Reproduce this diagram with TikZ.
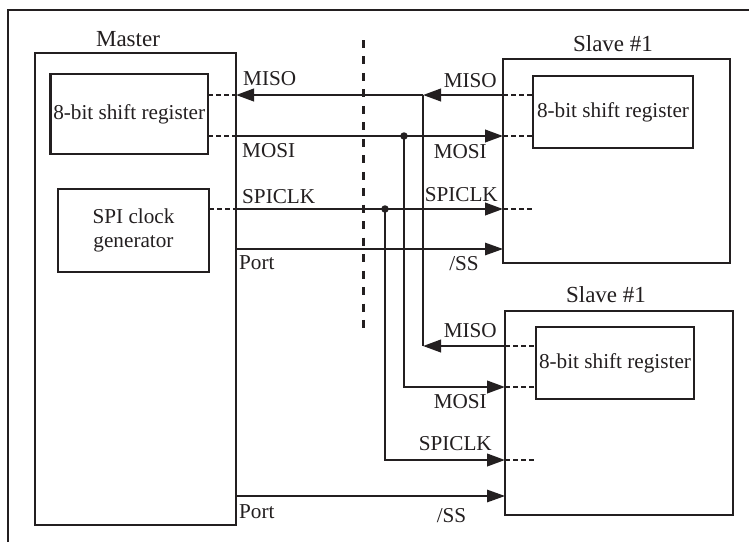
\documentclass[tikz,border=0pt]{standalone}
\usepackage{fontspec}
\setmainfont{Liberation Serif}
\usetikzlibrary{arrows.meta}
\definecolor{ink}{HTML}{231F20}
\begin{document}
\begin{tikzpicture}[x=1pt,y=-1pt,
  box/.style={draw=ink, line width=2.2pt, inner sep=0pt, outer sep=0pt, anchor=north west},
  sig/.style={draw=ink, line width=2.4pt},
  thinsig/.style={draw=ink, line width=1.4pt},
  tip/.style={-{Triangle[length=18pt,width=12.5pt]}},
  pin/.style={draw=ink, line width=2.4pt, dash pattern=on 4.5pt off 3.5pt},
  lbl/.style={font=\fontsize{21.2}{24.5}\selectfont, text=ink, inner sep=0pt},
  ttl/.style={font=\fontsize{23}{27}\selectfont, text=ink, inner sep=0pt},
  jdot/.style={circle, fill=ink, inner sep=0pt, minimum size=7.5pt}]
\useasboundingbox (0,0) rectangle (749,542);
\fill[white] (0,0) rectangle (749,542);
% outer frame
\coordinate (f1) at (8,542);
\coordinate (f2) at (8,10);
\coordinate (f3) at (749,10);
\draw[ink, line width=2pt] (f1) -- (f2) -- (f3);
% boxes
\node[box, minimum width=201pt, minimum height=472pt] (master) at (35,53) {};
\node[box, lbl, minimum width=157.5pt, minimum height=80pt] (msr) at (50.5,74) {8-bit shift register};
\node[box, lbl, align=center, minimum width=151pt, minimum height=83pt] (clk) at (58,189) {SPI clock\\generator};
\node[box, minimum width=227pt, minimum height=204pt] (s1) at (503,59) {};
\node[box, lbl, minimum width=160pt, minimum height=72pt] (s1sr) at (533,76) {8-bit shift register};
\node[box, minimum width=228pt, minimum height=204pt] (s2) at (505,311) {};
\node[box, lbl, minimum width=158pt, minimum height=72pt] (s2sr) at (536,327) {8-bit shift register};
% titles
\node[ttl, anchor=base] (tm) at (128,46) {Master};
\node[ttl, anchor=base] (ts1) at (613,51) {Slave \#1};
\node[ttl, anchor=base] (ts2) at (606,302) {Slave \#1};
% divider
\coordinate (dv1) at (363,40);
\coordinate (dv2) at (363,328);
\draw[ink, line width=3pt, dash pattern=on 8pt off 8.47pt] (dv1) -- (dv2);
% pin coordinates
\coordinate (mr1) at (msr.east |- 0,95);
\coordinate (mo1) at (master.east |- 0,95);
\coordinate (mr2) at (msr.east |- 0,136);
\coordinate (mo2) at (master.east |- 0,136);
\coordinate (mr3) at (clk.east |- 0,209);
\coordinate (mo3) at (master.east |- 0,209);
\coordinate (mo4) at (master.east |- 0,249);
\coordinate (mo5) at (master.east |- 0,496);
\coordinate (s1a) at (s1.west |- 0,95);
\coordinate (s1ra) at (s1sr.west |- 0,95);
\coordinate (s1b) at (s1.west |- 0,136);
\coordinate (s1rb) at (s1sr.west |- 0,136);
\coordinate (s1c) at (s1.west |- 0,209);
\coordinate (s1d) at (535,209);
\coordinate (s1e) at (s1.west |- 0,249);
\coordinate (s2a) at (s2.west |- 0,346);
\coordinate (s2ra) at (s2sr.west |- 0,346);
\coordinate (s2b) at (s2.west |- 0,387);
\coordinate (s2rb) at (s2sr.west |- 0,387);
\coordinate (s2c) at (s2.west |- 0,460);
\coordinate (s2d) at (537,460);
\coordinate (s2e) at (s2.west |- 0,496);
\coordinate (jMISO) at (423,95);
\coordinate (cMISO) at (423,346);
\coordinate (jMOSI) at (404,136);
\coordinate (cMOSI) at (404,387);
\coordinate (jCLK) at (385,209);
\coordinate (cCLK) at (385,460);
% dashed pin stubs
\draw[pin] (mr1) -- (mo1);
\draw[pin] (mr2) -- (mo2);
\draw[pin] (mr3) -- (mo3);
\draw[pin] (s1a) -- (s1ra);
\draw[pin] (s1b) -- (s1rb);
\draw[pin] (s1c) -- (s1d);
\draw[pin] (s2a) -- (s2ra);
\draw[pin] (s2b) -- (s2rb);
\draw[pin] (s2c) -- (s2d);
% MISO
\draw[sig, tip] (s1a) -- (jMISO);
\draw[sig, tip] (jMISO) -- (mo1);
\draw[sig] (jMISO) -- (cMISO);
\draw[sig, tip] (s2a) -- (cMISO);
% MOSI
\draw[sig, tip] (mo2) -- (s1b);
\draw[sig, tip] (jMOSI) -- (cMOSI) -- (s2b);
% SPICLK
\draw[sig, tip] (mo3) -- (s1c);
\draw[sig, tip] (jCLK) -- (cCLK) -- (s2c);
% Port -> /SS
\draw[thinsig, tip] (mo4) -- (s1e);
\draw[thinsig, tip] (mo5) -- (s2e);
% junction dots
\node[jdot] (d1) at (jMOSI) {};
\node[jdot] (d2) at (jCLK) {};
% labels master side
\node[lbl, anchor=base west] (lm1) at (243,85) {MISO};
\node[lbl, anchor=base west] (lm2) at (242,157) {MOSI};
\node[lbl, anchor=base west] (lm3) at (242,203) {SPICLK};
\node[lbl, anchor=base west] (lm4) at (239,269) {Port};
\node[lbl, anchor=base west] (lm5) at (239,518) {Port};
% labels slave 1
\node[lbl, anchor=base east] (la1) at (497,87) {MISO};
\node[lbl, anchor=base east] (la2) at (487,158) {MOSI};
\node[lbl, anchor=base east] (la3) at (498,201) {SPICLK};
\node[lbl, anchor=base] (la4) at (464,270) {/SS};
% labels slave 2
\node[lbl, anchor=base east] (lb1) at (497,337) {MISO};
\node[lbl, anchor=base east] (lb2) at (487,408) {MOSI};
\node[lbl, anchor=base east] (lb3) at (492,450) {SPICLK};
\node[lbl, anchor=base] (lb4) at (451.5,522) {/SS};
\end{tikzpicture}
\end{document}
